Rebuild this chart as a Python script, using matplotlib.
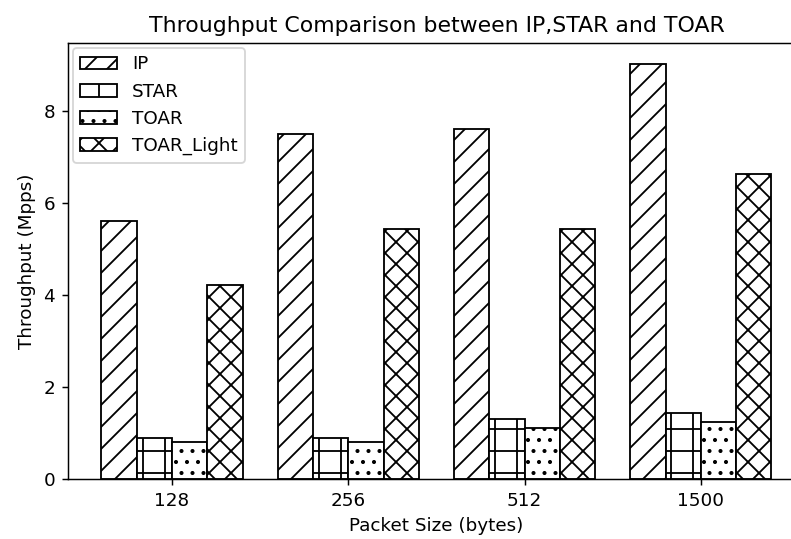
import numpy as np
import matplotlib
matplotlib.use("Agg")
import matplotlib.pyplot as plt

# valores (Mpps)
tamanhos = ["128", "256", "512", "1500"]
ip = [5.62, 7.51, 7.62, 9.03]
star = [0.90, 0.90, 1.31, 1.45]
toar = [0.80, 0.80, 1.11, 1.25]
toar_light = [4.22, 5.44, 5.44, 6.64]

series = [
    ("IP", ip, "//"),
    ("STAR", star, "+"),
    ("TOAR", toar, ".."),
    ("TOAR_Light", toar_light, "xx"),
]

DPI = 132
fig = plt.figure(figsize=(791 / DPI, 539 / DPI), dpi=DPI)
# eixo propositalmente passa da borda direita (imagem original recortada)
ax = fig.add_axes([68 / 791, 1 - 479.3 / 539, (804.9 - 68) / 791, (479.3 - 43) / 539])

x = np.arange(len(tamanhos))
largura = 0.2
for i, (nome, valores, hachura) in enumerate(series):
    ax.bar(x + (i - 1.5) * largura, valores, largura, label=nome,
           color="white", edgecolor="black", hatch=hachura)

ax.set_xticks(x)
ax.set_xticklabels(tamanhos)
ax.set_xlabel("Packet Size (bytes)")
ax.set_ylabel("Throughput (Mpps)")
ax.set_title("Throughput Comparison between IP,STAR and TOAR")
ax.legend(loc="upper left", borderaxespad=0.28)

fig.savefig("out.png", dpi=DPI)
